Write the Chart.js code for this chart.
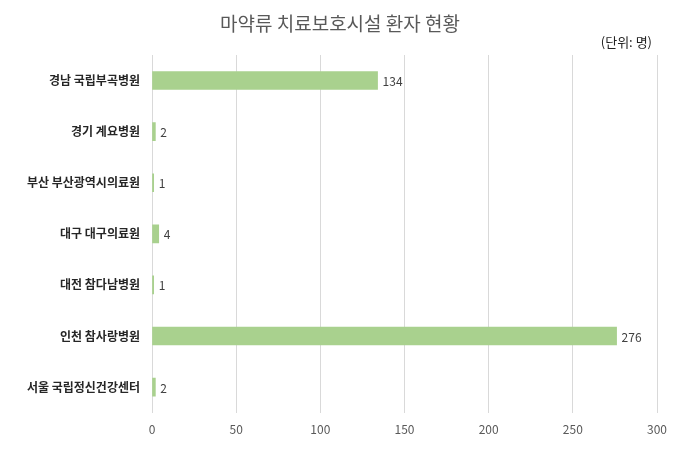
<!DOCTYPE html>
<html><head><meta charset="utf-8">
<script src="https://cdn.jsdelivr.net/npm/chart.js@4"></script>
<style>html,body{margin:0;padding:0;background:#fff}#w{width:680px;height:453px}</style>
</head><body><div id="w"><canvas id="c"></canvas></div>
<script>
const categories = ["경남 국립부곡병원","경기 계요병원","부산 부산광역시의료원","대구 대구의료원","대전 참다남병원","인천 참사랑병원","서울 국립정신건강센터"];
const values = [134,2,1,4,1,276,2];
const xTicks = [0,50,100,150,200,250,300];
const titleText = "마약류 치료보호시설 환자 현황";
const unitText = "(단위: 명)";
const FONT = "'Noto Sans CJK KR','Noto Sans',sans-serif";
const deco = {id:'deco',afterDatasetsDraw(ch){
  const c=ch.ctx; c.save();
  c.font="19px "+FONT; c.fillStyle="#595959"; c.textAlign="center"; c.textBaseline="middle";
  c.fillText(titleText,340,24);
  c.font="13px "+FONT; c.fillStyle="#222"; c.textAlign="right";
  c.fillText(unitText,652,42);
  const m=ch.getDatasetMeta(0);
  c.font="12px "+FONT; c.fillStyle="#404040"; c.textAlign="left";
  m.data.forEach((b,i)=>c.fillText(values[i],b.x+5,b.y+1));
  c.restore();
}};
new Chart(document.getElementById('c'),{
  type:'bar',
  data:{labels:categories,datasets:[{data:values,backgroundColor:'#a9d18e',barThickness:18}]},
  options:{indexAxis:'y',responsive:true,maintainAspectRatio:false,animation:false,
    layout:{padding:{top:55,right:23,bottom:6,left:0}},
    plugins:{legend:{display:false},tooltip:{enabled:false}},
    scales:{
      x:{min:0,max:300,afterBuildTicks(s){s.ticks=xTicks.map(v=>({value:v}));},
        grid:{color:'#d9d9d9',drawTicks:false},border:{display:false},
        ticks:{color:'#595959',font:{size:12,family:FONT},padding:10}},
      y:{grid:{display:false,drawTicks:false},border:{color:'#d9d9d9'},
        afterFit(s){s.width=152;},
        ticks:{color:'#262626',font:{size:12,weight:'bold',family:FONT},padding:12}}
    }}
  ,plugins:[deco]});
</script></body></html>
